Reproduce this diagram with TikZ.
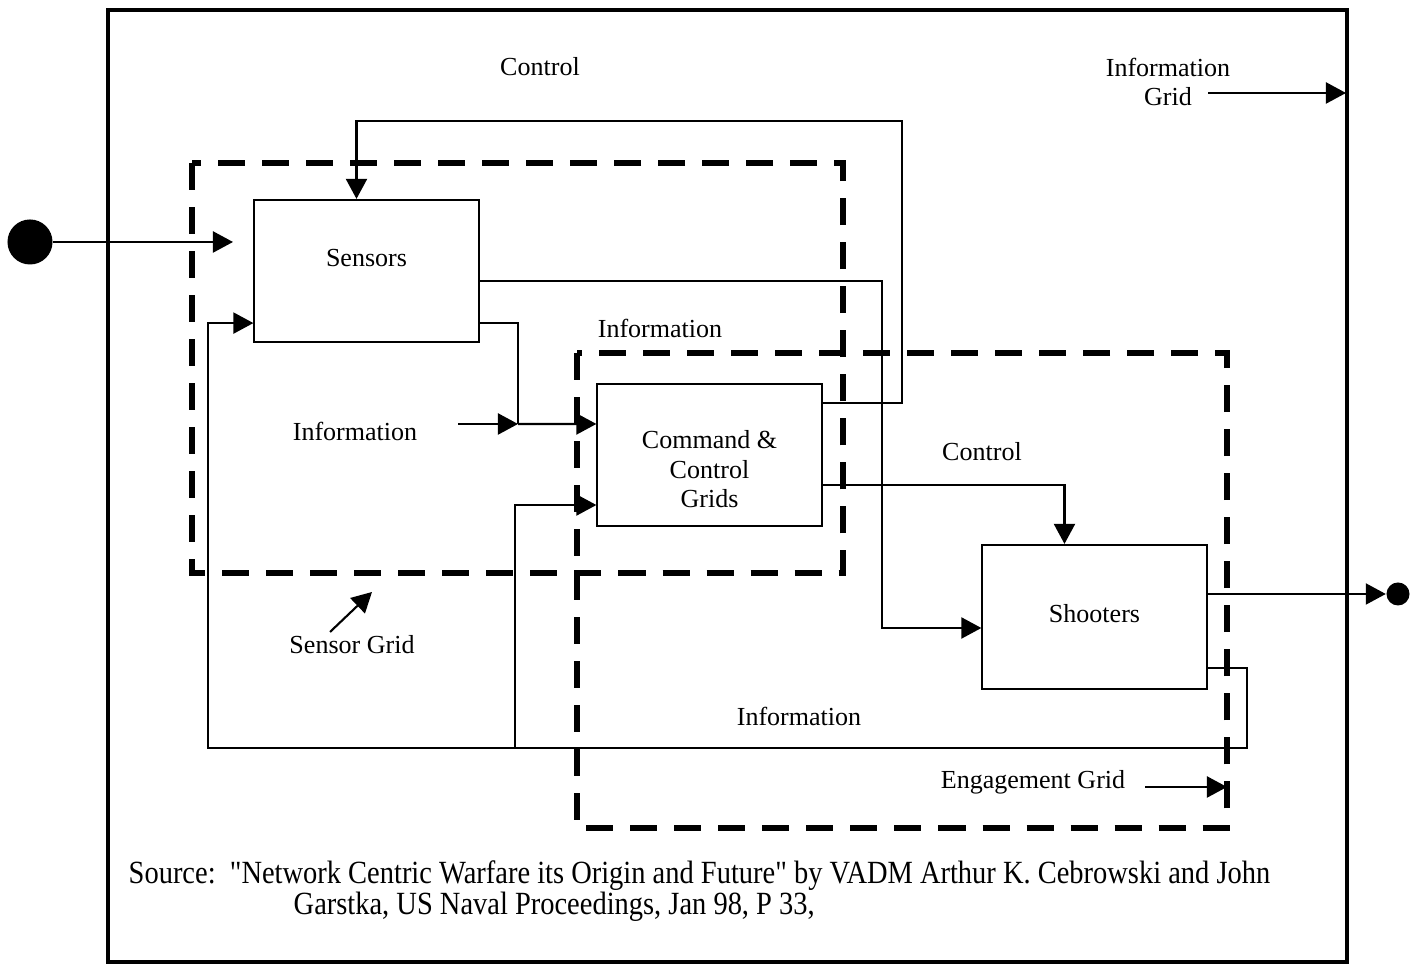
\documentclass[tikz,border=0pt]{standalone}
\usepackage{fontspec}
\setmainfont{Liberation Serif}
\newfontfamily\srcfont[FakeStretch=0.88]{Liberation Serif}
\usetikzlibrary{positioning,arrows.meta}
\newcommand{\lblfont}{\fontsize{7.4}{8.4}\selectfont}
\tikzset{
  blk/.style={rectangle, draw=black, line width=0.6pt, minimum width=2.24cm, minimum height=1.42cm, align=center, font=\lblfont},
  frm/.style={draw=black, line width=1.2pt},
  grd/.style={draw=black, line width=1.5pt, dash pattern=on 0.27cm off 0.17cm},
  con/.style={draw=black, line width=0.6pt},
  arr/.style={con, -{Triangle[length=0.2cm, width=0.21cm]}},
  lbl/.style={font=\lblfont, inner sep=1pt},
  src/.style={font=\srcfont\fontsize{9.2}{10}\selectfont, inner sep=0pt, anchor=base west},
  dot/.style={circle, fill=black, inner sep=0pt}
}
\begin{document}
\begin{tikzpicture}[x=0.01cm, y=-0.01cm]
    \useasboundingbox (0,0) rectangle (1417,965);
    \draw[frm] (108,10) rectangle (1347,962);
    \draw[grd] (192,163) rectangle (843,573);
    \draw[grd] (577,353) rectangle (1227,828);
    \node[blk, text depth=0.26cm] (sens) at (366.5,271) {Sensors};
    \node[blk] (c2) at (709.5,455) {\rule{0pt}{13.3pt}Command \&\\Control\\Grids};
    \node[blk, minimum height=1.44cm, text depth=0.08cm] (shoot) at (1094.5,617) {Shooters};
    \node[dot, minimum size=0.45cm] (indot) at (30,242) {};
    \node[dot, minimum size=0.23cm] (outdot) at (1398,594) {};
    \node[lbl] (ctrlT) at (540,67) {Control};
    \node[lbl, align=center] (igrid) at (1168,82) {Information\\Grid};
    \node[lbl] (infoT) at (660,328) {Information};
    \node[lbl] (infoL) at (355,431) {Information};
    \node[lbl] (ctrlR) at (982,452) {Control};
    \node[lbl] (sgrid) at (352,645) {Sensor Grid};
    \node[lbl] (infoB) at (799,716) {Information};
    \node[lbl] (egrid) at (1033,782) {Engagement Grid};
    \node[src] (srcA) at (128,884) {Source:\ \ "Network Centric Warfare its Origin and Future" by VADM Arthur K. Cebrowski and John};
    \node[src] (srcB) at (293,915) {Garstka, US Naval Proceedings, Jan 98, P 33,};
    \coordinate (inend) at (233,242);
    \coordinate (j1) at (518,424);
    \coordinate (fb) at (515,748);
    \coordinate (igA) at (1208,93); \coordinate (igB) at (1346,93);
    \coordinate (sgA) at (330,632); \coordinate (sgB) at (372,592);
    \coordinate (egA) at (1145,787); \coordinate (egB) at (1227,787);
    \draw[arr] (indot) -- (inend);
    \draw[arr] ([yshift=-0.2cm]c2.north east) -| (902,121) -| ([xshift=-0.1cm]sens.north);
    \draw[arr] ([yshift=-0.82cm]sens.north east) -| (882,500) |- ([yshift=-0.11cm]shoot.west);
    \draw[con] ([yshift=0.2cm]sens.south east) -| (j1);
    \draw[arr] (j1) -- ([yshift=0.31cm]c2.west);
    \draw[arr] ([xshift=0.37cm]infoL.east |- j1) -- (j1);
    \draw[arr] ([yshift=-0.3cm]c2.east) -| ([xshift=-0.3cm]shoot.north);
    \draw[arr] (shoot.east |- outdot) -- (outdot.west);
    \draw[arr] ([yshift=0.22cm]shoot.south east) -| (1247,748) -| (208,500) |- ([yshift=0.2cm]sens.south west);
    \draw[arr] (fb) |- ([yshift=-0.5cm]c2.west);
    \draw[arr] (igA) -- (igB);
    \draw[arr] (sgA) -- (sgB);
    \draw[arr] (egA) -- (egB);
  \end{tikzpicture}
\end{document}
